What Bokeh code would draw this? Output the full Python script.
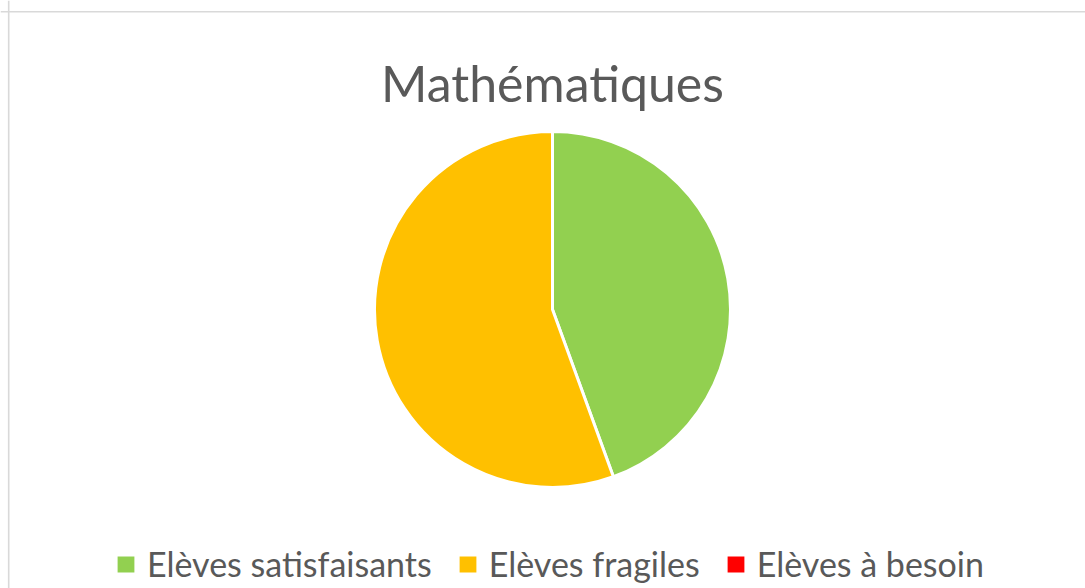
import math
from bokeh.plotting import figure
from bokeh.models import ColumnDataSource, Range1d, Legend, LegendItem, Label, Span
from bokeh.embed import file_html
from bokeh.resources import INLINE

# ---- data ----
title_text = "Mathématiques"
categories = ["Elèves satisfaisants", "Elèves fragiles", "Elèves à besoin"]
values = [4, 5, 0]
colors = ["#92D050", "#FFC000", "#FF0000"]

W, H = 1085, 588
FONT = "Lato"
TXT = "#595959"

cx, cy, r = 552, 279, 178

total = float(sum(values))
starts, ends, radii = [], [], []
acc = 0.0
for v in values:
    a0 = math.pi / 2 - 2 * math.pi * acc / total
    acc += v
    a1 = math.pi / 2 - 2 * math.pi * acc / total
    starts.append(a0)
    ends.append(a1)
    radii.append(r if v > 0 else 0)

src = ColumnDataSource(dict(cat=categories, val=values, color=colors,
                            start=starts, end=ends, rad=radii,
                            x=[cx] * 3, y=[cy] * 3))

p = figure(width=W, height=H, output_backend="svg", toolbar_location=None,
           x_range=Range1d(0, W), y_range=Range1d(0, H),
           x_axis_location=None, y_axis_location=None, min_border=0,
           background_fill_color="white", border_fill_color="white")
p.outline_line_color = None
p.grid.visible = False

# pie slices
p.wedge(x="x", y="y", radius="rad", start_angle="start", end_angle="end",
        direction="clock", fill_color="color", line_color="white",
        line_width=3, source=src)

# legend swatches (zero radius renderer, used only for the legend)
lr = p.wedge(x="x", y="y", radius=0, start_angle="start", end_angle="end",
             direction="clock", fill_color="color", line_color=None, source=src)

# chart border (top and left visible)
p.add_layout(Span(location=8.2, dimension="height", line_color="#d9d9d9", line_width=1.6))
p.add_layout(Span(location=H - 11.2, dimension="width", line_color="#d9d9d9", line_width=1.6))

p.add_layout(Label(x=cx, y=H - 82, text=title_text, text_align="center",
                   text_baseline="alphabetic", text_font=FONT,
                   text_font_size="50px", text_color=TXT))

items = [LegendItem(label=c, renderers=[lr], index=i) for i, c in enumerate(categories)]
leg = Legend(items=items, orientation="horizontal", location=(115, 4),
             glyph_width=21, glyph_height=20, label_standoff=11, spacing=25,
             padding=0, margin=0, border_line_color=None,
             background_fill_alpha=0, label_text_font=FONT,
             label_text_font_size="34px", label_text_color=TXT)
p.add_layout(leg)

open("out.html", "w").write(file_html(p, INLINE))
